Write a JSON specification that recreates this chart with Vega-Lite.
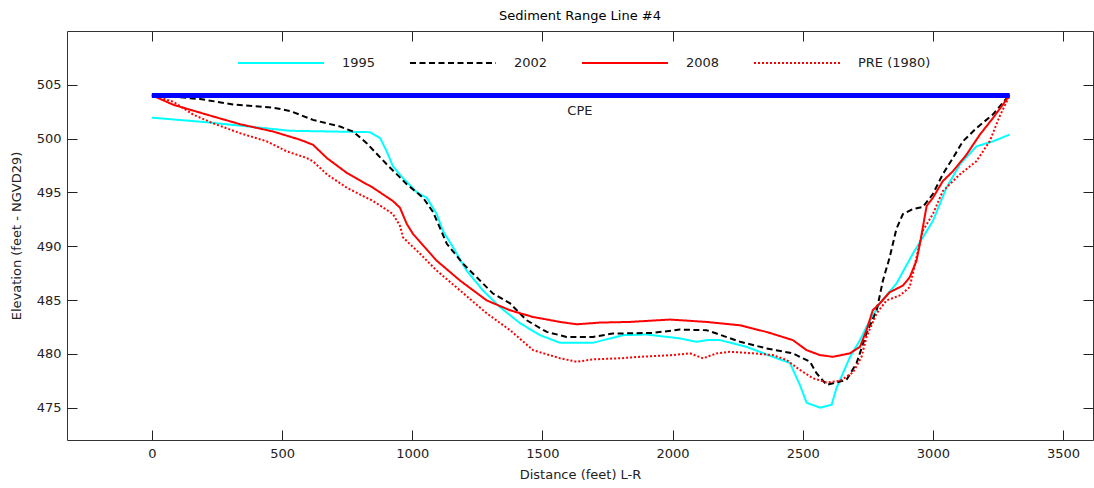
{
  "$schema": "https://vega.github.io/schema/vega-lite/v6.json",
  "autosize": "none",
  "width": 1026,
  "height": 409,
  "padding": {"left": 67, "top": 31, "right": 1, "bottom": 48},
  "background": "white",
  "title": {"text": "Sediment Range Line #4", "fontSize": 13, "font": "DejaVu Sans", "fontWeight": "normal", "color": "#000", "offset": -4},
  "config": {
    "view": {"stroke": "#333", "strokeWidth": 1},
    "font": "DejaVu Sans",
    "axis": {"grid": false, "domain": false, "tickColor": "#222", "tickWidth": 1, "tickSize": 10, "labelFontSize": 13, "labelColor": "#222", "titleFontSize": 13, "titleFontWeight": "normal", "titleColor": "#222", "labelFont": "DejaVu Sans", "titleFont": "DejaVu Sans"}
  },
  "datasets": {
    "prof": [
      {"s": "1995", "d": 0, "e": 501.95}, {"s": "1995", "d": 211, "e": 501.52}, {"s": "1995", "d": 531, "e": 500.73}, {"s": "1995", "d": 838, "e": 500.6}, {"s": "1995", "d": 877, "e": 500.04}, {"s": "1995", "d": 902, "e": 498.82}, {"s": "1995", "d": 926, "e": 497.43}, {"s": "1995", "d": 965, "e": 496.32}, {"s": "1995", "d": 1017, "e": 495.03}, {"s": "1995", "d": 1056, "e": 494.5}, {"s": "1995", "d": 1094, "e": 492.99}, {"s": "1995", "d": 1118, "e": 491.43}, {"s": "1995", "d": 1157, "e": 489.89}, {"s": "1995", "d": 1209, "e": 487.74}, {"s": "1995", "d": 1272, "e": 485.89}, {"s": "1995", "d": 1337, "e": 484.35}, {"s": "1995", "d": 1414, "e": 482.85}, {"s": "1995", "d": 1491, "e": 481.74}, {"s": "1995", "d": 1568, "e": 481.03}, {"s": "1995", "d": 1694, "e": 481.03}, {"s": "1995", "d": 1809, "e": 481.74}, {"s": "1995", "d": 1900, "e": 481.8}, {"s": "1995", "d": 2028, "e": 481.44}, {"s": "1995", "d": 2092, "e": 481.12}, {"s": "1995", "d": 2131, "e": 481.28}, {"s": "1995", "d": 2182, "e": 481.28}, {"s": "1995", "d": 2284, "e": 480.66}, {"s": "1995", "d": 2385, "e": 479.73}, {"s": "1995", "d": 2451, "e": 479.15}, {"s": "1995", "d": 2489, "e": 477.12}, {"s": "1995", "d": 2515, "e": 475.46}, {"s": "1995", "d": 2567, "e": 475.0}, {"s": "1995", "d": 2611, "e": 475.27}, {"s": "1995", "d": 2630, "e": 476.85}, {"s": "1995", "d": 2682, "e": 479.73}, {"s": "1995", "d": 2720, "e": 481.28}, {"s": "1995", "d": 2745, "e": 482.5}, {"s": "1995", "d": 2796, "e": 484.69}, {"s": "1995", "d": 2860, "e": 486.54}, {"s": "1995", "d": 2923, "e": 489.31}, {"s": "1995", "d": 3000, "e": 492.35}, {"s": "1995", "d": 3052, "e": 495.43}, {"s": "1995", "d": 3104, "e": 497.62}, {"s": "1995", "d": 3167, "e": 499.28}, {"s": "1995", "d": 3230, "e": 499.74}, {"s": "1995", "d": 3295, "e": 500.38},
      {"s": "2002", "d": 0, "e": 504.08}, {"s": "2002", "d": 82, "e": 503.89}, {"s": "2002", "d": 185, "e": 503.68}, {"s": "2002", "d": 312, "e": 503.18}, {"s": "2002", "d": 466, "e": 502.88}, {"s": "2002", "d": 531, "e": 502.57}, {"s": "2002", "d": 619, "e": 501.74}, {"s": "2002", "d": 723, "e": 501.12}, {"s": "2002", "d": 773, "e": 500.66}, {"s": "2002", "d": 825, "e": 499.58}, {"s": "2002", "d": 902, "e": 497.62}, {"s": "2002", "d": 979, "e": 495.77}, {"s": "2002", "d": 1042, "e": 494.5}, {"s": "2002", "d": 1080, "e": 493.18}, {"s": "2002", "d": 1133, "e": 490.23}, {"s": "2002", "d": 1195, "e": 488.38}, {"s": "2002", "d": 1248, "e": 487.12}, {"s": "2002", "d": 1310, "e": 485.61}, {"s": "2002", "d": 1376, "e": 484.69}, {"s": "2002", "d": 1440, "e": 483.12}, {"s": "2002", "d": 1517, "e": 482.04}, {"s": "2002", "d": 1593, "e": 481.58}, {"s": "2002", "d": 1694, "e": 481.58}, {"s": "2002", "d": 1771, "e": 481.89}, {"s": "2002", "d": 1925, "e": 481.95}, {"s": "2002", "d": 2028, "e": 482.26}, {"s": "2002", "d": 2131, "e": 482.2}, {"s": "2002", "d": 2169, "e": 481.89}, {"s": "2002", "d": 2260, "e": 481.12}, {"s": "2002", "d": 2361, "e": 480.51}, {"s": "2002", "d": 2462, "e": 480.05}, {"s": "2002", "d": 2528, "e": 479.27}, {"s": "2002", "d": 2553, "e": 478.2}, {"s": "2002", "d": 2592, "e": 477.12}, {"s": "2002", "d": 2643, "e": 477.43}, {"s": "2002", "d": 2668, "e": 477.58}, {"s": "2002", "d": 2707, "e": 479.15}, {"s": "2002", "d": 2745, "e": 481.92}, {"s": "2002", "d": 2784, "e": 484.05}, {"s": "2002", "d": 2808, "e": 486.81}, {"s": "2002", "d": 2834, "e": 488.97}, {"s": "2002", "d": 2860, "e": 491.62}, {"s": "2002", "d": 2885, "e": 493.0}, {"s": "2002", "d": 2923, "e": 493.46}, {"s": "2002", "d": 2961, "e": 493.65}, {"s": "2002", "d": 3000, "e": 494.85}, {"s": "2002", "d": 3038, "e": 496.69}, {"s": "2002", "d": 3077, "e": 498.2}, {"s": "2002", "d": 3115, "e": 499.74}, {"s": "2002", "d": 3167, "e": 500.97}, {"s": "2002", "d": 3230, "e": 502.23}, {"s": "2002", "d": 3295, "e": 504.08},
      {"s": "2008", "d": 0, "e": 504.03}, {"s": "2008", "d": 82, "e": 503.15}, {"s": "2008", "d": 211, "e": 502.23}, {"s": "2008", "d": 339, "e": 501.34}, {"s": "2008", "d": 466, "e": 500.66}, {"s": "2008", "d": 569, "e": 499.9}, {"s": "2008", "d": 619, "e": 499.43}, {"s": "2008", "d": 672, "e": 498.2}, {"s": "2008", "d": 749, "e": 496.81}, {"s": "2008", "d": 850, "e": 495.43}, {"s": "2008", "d": 926, "e": 494.2}, {"s": "2008", "d": 953, "e": 493.58}, {"s": "2008", "d": 979, "e": 492.08}, {"s": "2008", "d": 1003, "e": 491.15}, {"s": "2008", "d": 1094, "e": 488.66}, {"s": "2008", "d": 1184, "e": 486.81}, {"s": "2008", "d": 1286, "e": 484.97}, {"s": "2008", "d": 1376, "e": 484.05}, {"s": "2008", "d": 1464, "e": 483.43}, {"s": "2008", "d": 1568, "e": 482.97}, {"s": "2008", "d": 1632, "e": 482.75}, {"s": "2008", "d": 1721, "e": 482.91}, {"s": "2008", "d": 1836, "e": 482.97}, {"s": "2008", "d": 1990, "e": 483.19}, {"s": "2008", "d": 2131, "e": 482.97}, {"s": "2008", "d": 2258, "e": 482.66}, {"s": "2008", "d": 2361, "e": 482.04}, {"s": "2008", "d": 2462, "e": 481.28}, {"s": "2008", "d": 2515, "e": 480.35}, {"s": "2008", "d": 2566, "e": 479.89}, {"s": "2008", "d": 2616, "e": 479.73}, {"s": "2008", "d": 2681, "e": 480.05}, {"s": "2008", "d": 2720, "e": 480.66}, {"s": "2008", "d": 2745, "e": 482.2}, {"s": "2008", "d": 2769, "e": 484.05}, {"s": "2008", "d": 2796, "e": 484.69}, {"s": "2008", "d": 2834, "e": 485.73}, {"s": "2008", "d": 2885, "e": 486.35}, {"s": "2008", "d": 2911, "e": 487.12}, {"s": "2008", "d": 2937, "e": 488.66}, {"s": "2008", "d": 2950, "e": 490.23}, {"s": "2008", "d": 2976, "e": 493.74}, {"s": "2008", "d": 3000, "e": 494.5}, {"s": "2008", "d": 3038, "e": 496.05}, {"s": "2008", "d": 3077, "e": 496.97}, {"s": "2008", "d": 3129, "e": 498.51}, {"s": "2008", "d": 3180, "e": 500.36}, {"s": "2008", "d": 3230, "e": 501.89}, {"s": "2008", "d": 3295, "e": 504.03},
      {"s": "PRE (1980)", "d": 0, "e": 504.03}, {"s": "PRE (1980)", "d": 82, "e": 503.43}, {"s": "PRE (1980)", "d": 159, "e": 502.23}, {"s": "PRE (1980)", "d": 235, "e": 501.43}, {"s": "PRE (1980)", "d": 339, "e": 500.5}, {"s": "PRE (1980)", "d": 442, "e": 499.74}, {"s": "PRE (1980)", "d": 518, "e": 498.82}, {"s": "PRE (1980)", "d": 595, "e": 498.2}, {"s": "PRE (1980)", "d": 619, "e": 497.89}, {"s": "PRE (1980)", "d": 672, "e": 496.69}, {"s": "PRE (1980)", "d": 749, "e": 495.43}, {"s": "PRE (1980)", "d": 850, "e": 494.2}, {"s": "PRE (1980)", "d": 926, "e": 493.0}, {"s": "PRE (1980)", "d": 953, "e": 491.89}, {"s": "PRE (1980)", "d": 965, "e": 490.81}, {"s": "PRE (1980)", "d": 1030, "e": 489.31}, {"s": "PRE (1980)", "d": 1094, "e": 487.74}, {"s": "PRE (1980)", "d": 1184, "e": 485.89}, {"s": "PRE (1980)", "d": 1286, "e": 483.77}, {"s": "PRE (1980)", "d": 1376, "e": 482.2}, {"s": "PRE (1980)", "d": 1464, "e": 480.35}, {"s": "PRE (1980)", "d": 1568, "e": 479.59}, {"s": "PRE (1980)", "d": 1632, "e": 479.27}, {"s": "PRE (1980)", "d": 1694, "e": 479.49}, {"s": "PRE (1980)", "d": 1797, "e": 479.59}, {"s": "PRE (1980)", "d": 1875, "e": 479.73}, {"s": "PRE (1980)", "d": 2001, "e": 479.89}, {"s": "PRE (1980)", "d": 2067, "e": 480.05}, {"s": "PRE (1980)", "d": 2117, "e": 479.59}, {"s": "PRE (1980)", "d": 2169, "e": 480.05}, {"s": "PRE (1980)", "d": 2220, "e": 480.2}, {"s": "PRE (1980)", "d": 2309, "e": 480.05}, {"s": "PRE (1980)", "d": 2385, "e": 479.89}, {"s": "PRE (1980)", "d": 2438, "e": 479.43}, {"s": "PRE (1980)", "d": 2489, "e": 478.51}, {"s": "PRE (1980)", "d": 2539, "e": 477.74}, {"s": "PRE (1980)", "d": 2592, "e": 477.35}, {"s": "PRE (1980)", "d": 2643, "e": 477.49}, {"s": "PRE (1980)", "d": 2693, "e": 478.28}, {"s": "PRE (1980)", "d": 2726, "e": 479.73}, {"s": "PRE (1980)", "d": 2745, "e": 481.58}, {"s": "PRE (1980)", "d": 2784, "e": 483.77}, {"s": "PRE (1980)", "d": 2822, "e": 484.97}, {"s": "PRE (1980)", "d": 2873, "e": 485.43}, {"s": "PRE (1980)", "d": 2911, "e": 486.2}, {"s": "PRE (1980)", "d": 2937, "e": 488.97}, {"s": "PRE (1980)", "d": 2961, "e": 491.43}, {"s": "PRE (1980)", "d": 3000, "e": 493.0}, {"s": "PRE (1980)", "d": 3038, "e": 495.12}, {"s": "PRE (1980)", "d": 3104, "e": 496.69}, {"s": "PRE (1980)", "d": 3167, "e": 497.9}, {"s": "PRE (1980)", "d": 3218, "e": 499.74}, {"s": "PRE (1980)", "d": 3256, "e": 502.05}, {"s": "PRE (1980)", "d": 3295, "e": 504.03}
    ],
    "cpe": [{"d": 0, "e": 504}, {"d": 3295, "e": 504}],
    "cpelabel": [{"d": 1644, "e": 502.6, "t": "CPE"}]
  },
  "resolve": {"axis": {"x": "independent", "y": "independent"}},
  "layer": [
    {
      "data": {"name": "prof"},
      "mark": {"type": "line", "strokeWidth": 2},
      "encoding": {
        "x": {"field": "d", "type": "quantitative", "scale": {"domain": [-326, 3615], "nice": false, "zero": false},
              "axis": {"orient": "bottom", "values": [0, 500, 1000, 1500, 2000, 2500, 3000, 3500], "format": "d", "ticks": false, "title": "Distance (feet) L-R", "labelPadding": 7, "titlePadding": 8}},
        "y": {"field": "e", "type": "quantitative", "scale": {"domain": [472, 510], "nice": false, "zero": false},
              "axis": {"orient": "left", "values": [475, 480, 485, 490, 495, 500, 505], "ticks": false, "title": "Elevation (feet - NGVD29)", "labelPadding": 6, "titlePadding": 13}},
        "color": {"field": "s", "type": "nominal",
                  "scale": {"domain": ["1995", "2002", "2008", "PRE (1980)"], "range": ["#00ffff", "#000000", "#ff0000", "#ff0000"]},
                  "legend": {"title": null, "orient": "none", "direction": "horizontal", "legendX": 170, "legendY": -12, "symbolType": "stroke", "symbolSize": 7396, "symbolStrokeWidth": 2, "labelFontSize": 13, "labelFont": "DejaVu Sans", "labelColor": "#222", "labelOffset": 17, "columnPadding": 30, "padding": 0}},
        "strokeDash": {"field": "s", "type": "nominal",
                  "scale": {"domain": ["1995", "2002", "2008", "PRE (1980)"], "range": [[1, 0], [6, 3.5], [1, 0], [2, 2]]},
                  "legend": {"title": null, "orient": "none", "direction": "horizontal", "legendX": 170, "legendY": -12, "symbolType": "stroke", "symbolSize": 7396, "symbolStrokeWidth": 2, "labelFontSize": 13, "labelFont": "DejaVu Sans", "labelColor": "#222", "labelOffset": 17, "columnPadding": 30, "padding": 0}}
      }
    },
    {
      "data": {"name": "cpe"},
      "mark": {"type": "line", "strokeWidth": 5, "color": "#0000ff"},
      "encoding": {
        "x": {"field": "d", "type": "quantitative", "scale": {"domain": [-326, 3615], "nice": false, "zero": false},
              "axis": {"orient": "top", "offset": -409, "values": [0, 500, 1000, 1500, 2000, 2500, 3000, 3500], "labels": false, "title": null}},
        "y": {"field": "e", "type": "quantitative", "scale": {"domain": [472, 510], "nice": false, "zero": false},
              "axis": {"orient": "right", "offset": -1026, "values": [475, 480, 485, 490, 495, 500, 505], "labels": false, "title": null}}
      }
    },
    {
      "data": {"name": "cpelabel"},
      "mark": {"type": "text", "fontSize": 13, "font": "DejaVu Sans", "color": "#222"},
      "encoding": {
        "x": {"field": "d", "type": "quantitative", "scale": {"domain": [-326, 3615], "nice": false, "zero": false},
              "axis": {"orient": "bottom", "offset": -409, "values": [0, 500, 1000, 1500, 2000, 2500, 3000, 3500], "labels": false, "title": null}},
        "y": {"field": "e", "type": "quantitative", "scale": {"domain": [472, 510], "nice": false, "zero": false},
              "axis": {"orient": "left", "offset": -1026, "values": [475, 480, 485, 490, 495, 500, 505], "labels": false, "title": null}},
        "text": {"field": "t"}
      }
    }
  ]
}
